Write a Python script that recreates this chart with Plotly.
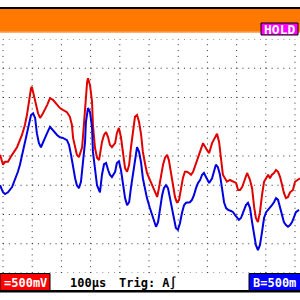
import plotly.graph_objects as go

# Scope settings / grid (time in microseconds, voltage in volts)
time_ticks_us = [0, 100, 200, 300, 400, 500, 600, 700, 800, 900, 1000]
volt_ticks = [-2.0, -1.5, -1.0, -0.5, 0.0, 0.5, 1.0, 1.5, 2.0]

# Channel A (red) readings
red_t = [-10, 0, 7, 17, 31, 48, 65, 75, 82, 89, 96, 99, 103, 110, 120, 127, 137, 151, 161, 171,
         185, 195, 205, 219, 229, 236, 240, 247, 253, 260, 271, 277, 281, 284, 288, 291, 298, 305,
         308, 315, 322, 329, 332, 339, 346, 353, 360, 366, 373, 384, 390, 397, 404, 411, 418, 425,
         432, 438, 445, 452, 459, 466, 473, 479, 486, 493, 503, 510, 517, 528, 534, 541, 548, 555,
         562, 568, 575, 582, 589, 596, 603, 610, 616, 623, 630, 637, 644, 651, 661, 668, 675, 685,
         699, 706, 716, 726, 733, 740, 747, 753, 760, 767, 777, 788, 798, 805, 812, 819, 829, 836,
         846, 853, 860, 866, 873, 880, 887, 894, 901, 908, 914, 921, 928, 935, 942, 949, 956, 962,
         969, 976, 983, 993, 1000, 1007, 1017]
red_v = [0.02, -0.15, -0.10, -0.10, 0.02, 0.15, 0.36, 0.53, 0.70, 0.96, 1.16, 1.18, 1.09, 0.92,
         0.73, 0.65, 0.73, 0.87, 0.99, 0.96, 0.87, 0.82, 0.79, 0.75, 0.67, 0.53, 0.31, 0.14, 0.02,
         -0.02, 0.15, 0.53, 0.82, 1.04, 1.26, 1.33, 1.21, 0.92, 0.53, 0.14, -0.03, -0.07, 0.02,
         0.24, 0.36, 0.41, 0.32, 0.19, 0.15, 0.22, 0.39, 0.48, 0.32, 0.02, -0.21, -0.27, -0.15,
         0.14, 0.44, 0.67, 0.70, 0.58, 0.36, 0.07, -0.12, -0.29, -0.41, -0.50, -0.58, -0.70, -0.55,
         -0.32, -0.15, -0.03, 0.02, -0.07, -0.27, -0.50, -0.70, -0.80, -0.75, -0.55, -0.38, -0.27,
         -0.27, -0.29, -0.32, -0.27, -0.12, -0.02, 0.10, 0.22, 0.10, 0.05, 0.22, 0.32, 0.38, 0.24,
         -0.03, -0.32, -0.38, -0.44, -0.41, -0.44, -0.46, -0.58, -0.58, -0.53, -0.38, -0.29, -0.41,
         -0.55, -0.87, -1.06, -1.13, -0.96, -0.67, -0.44, -0.38, -0.32, -0.38, -0.32, -0.29, -0.24,
         -0.27, -0.36, -0.50, -0.63, -0.72, -0.70, -0.62, -0.58, -0.44, -0.41, -0.38]

# Channel B (blue) readings
blue_t = [-10, 0, 7, 17, 31, 41, 51, 58, 68, 75, 82, 89, 96, 103, 110, 116, 123, 130, 137, 151,
          161, 171, 185, 195, 205, 219, 226, 233, 240, 247, 253, 260, 267, 274, 281, 284, 291, 298,
          305, 308, 315, 322, 332, 339, 346, 353, 360, 366, 373, 384, 390, 397, 404, 411, 418, 425,
          432, 438, 445, 452, 459, 466, 473, 479, 486, 493, 503, 510, 517, 524, 531, 538, 545, 551,
          558, 565, 572, 579, 586, 592, 599, 606, 613, 620, 627, 634, 640, 647, 654, 661, 668, 675,
          682, 688, 699, 706, 716, 723, 729, 736, 743, 750, 757, 764, 771, 781, 788, 795, 801, 808,
          815, 822, 832, 839, 846, 853, 860, 866, 873, 880, 887, 894, 901, 908, 914, 921, 928, 935,
          942, 949, 956, 962, 969, 976, 983, 990, 997, 1003, 1014]
blue_v = [-0.50, -0.62, -0.65, -0.62, -0.53, -0.41, -0.27, -0.15, 0.07, 0.24, 0.41, 0.58, 0.70,
          0.73, 0.65, 0.39, 0.22, 0.15, 0.24, 0.39, 0.50, 0.44, 0.36, 0.32, 0.31, 0.27, 0.19, 0.02,
          -0.21, -0.38, -0.50, -0.55, -0.44, -0.10, 0.24, 0.58, 0.82, 0.75, 0.48, 0.07, -0.27, -0.50,
          -0.62, -0.32, -0.14, -0.12, -0.24, -0.32, -0.36, -0.27, -0.12, -0.09, -0.24, -0.50, -0.72,
          -0.84, -0.79, -0.55, -0.32, -0.02, 0.15, 0.07, -0.12, -0.38, -0.58, -0.72, -0.89, -1.01,
          -1.13, -1.21, -1.13, -0.89, -0.67, -0.55, -0.50, -0.55, -0.72, -0.89, -1.06, -1.23, -1.26,
          -1.15, -0.97, -0.84, -0.80, -0.80, -0.79, -0.75, -0.67, -0.55, -0.46, -0.41, -0.32, -0.29,
          -0.38, -0.46, -0.38, -0.24, -0.15, -0.19, -0.32, -0.55, -0.79, -0.89, -0.92, -0.94, -0.96,
          -1.01, -1.04, -1.09, -1.06, -0.96, -0.84, -0.80, -0.89, -1.13, -1.35, -1.52, -1.61, -1.52,
          -1.30, -1.06, -0.96, -0.92, -0.89, -0.84, -0.79, -0.72, -0.75, -0.87, -1.01, -1.13, -1.18,
          -1.21, -1.18, -1.13, -1.04, -0.96, -0.92]

# Status texts
hold_label = "HOLD"
ch_a_label = "=500mV"
timebase_label = "100μs"
trigger_label = "Trig: A∫"
ch_b_label = "B=500m"

W = H = 300
FONT = "DejaVu Sans Mono"


def py(p):
    return 1 - p / H


def px(p):
    return p / W


# plot-area geometry in pixels
grid_left, grid_right = 3.0, 295.0
grid_top, grid_bottom = 39.0, 273.0
us_per_px = (time_ticks_us[-1] - time_ticks_us[0]) / (grid_right - grid_left)
x_range = [time_ticks_us[0] - grid_left * us_per_px,
           time_ticks_us[-1] + (W - grid_right) * us_per_px]

fig = go.Figure()
fig.add_trace(go.Scatter(x=red_t, y=red_v, mode="lines",
                         line=dict(color="#e00000", width=2), hoverinfo="skip"))
fig.add_trace(go.Scatter(x=blue_t, y=blue_v, mode="lines",
                         line=dict(color="#0000e0", width=2), hoverinfo="skip"))

shapes = []
dot = "1px,4.84px"
for v in volt_ticks:
    shapes.append(dict(type="line", xref="x", yref="y", x0=time_ticks_us[0], x1=time_ticks_us[-1],
                       y0=v, y1=v, line=dict(color="#303030", width=1, dash=dot), layer="below"))
for t in time_ticks_us:
    shapes.append(dict(type="line", xref="x", yref="y", x0=t, x1=t,
                       y0=volt_ticks[0], y1=volt_ticks[-1],
                       line=dict(color="#303030", width=1, dash=dot), layer="below"))


def rect(x0, y0, x1, y1, fill, line_color=None, lw=0):
    return dict(type="rect", xref="paper", yref="paper", x0=px(x0), x1=px(x1),
                y0=py(y1), y1=py(y0), fillcolor=fill,
                line=dict(color=line_color or fill, width=lw), layer="above")


# top bar
shapes.append(rect(0, 7, 300, 9, "#000000"))
shapes.append(rect(0, 9, 300, 32, "#ff7800"))
shapes.append(rect(0, 31.5, 300, 33, "#ffb070"))
shapes.append(rect(261, 23, 298, 35, "#ff00ff", "#000000", 1))
# bottom bar
shapes.append(rect(0, 273.5, 50, 290.5, "#ff0000", "#000000", 1))
shapes.append(rect(249, 273.5, 301, 290.5, "#0000ff", "#000000", 1))
shapes.append(rect(0, 290, 300, 292.5, "#000000"))


def label(x, y, text, anchor, color, size=12):
    return dict(xref="paper", yref="paper", x=px(x), y=py(y), text="<b>%s</b>" % text,
                showarrow=False, xanchor=anchor, yanchor="middle", borderpad=0,
                font=dict(family=FONT, size=size, color=color))


annotations = [
    label(279.5, 29.5, hold_label, "center", "#ffffff", 13),
    label(48, 282.5, ch_a_label, "right", "#ffffff"),
    label(69, 282.5, timebase_label, "left", "#000000"),
    label(118, 282.5, trigger_label, "left", "#000000"),
    label(252, 282.5, ch_b_label, "left", "#ffffff"),
]

fig.update_layout(
    width=W, height=H, margin=dict(l=0, r=0, t=0, b=0),
    paper_bgcolor="#ffffff", plot_bgcolor="#ffffff", showlegend=False,
    xaxis=dict(domain=[0, 1], range=x_range, visible=False, fixedrange=True),
    yaxis=dict(domain=[py(grid_bottom), py(grid_top)], range=[volt_ticks[0], volt_ticks[-1]],
               visible=False, fixedrange=True),
    shapes=shapes, annotations=annotations,
)

fig.write_html("out.html", config={"displayModeBar": False})
